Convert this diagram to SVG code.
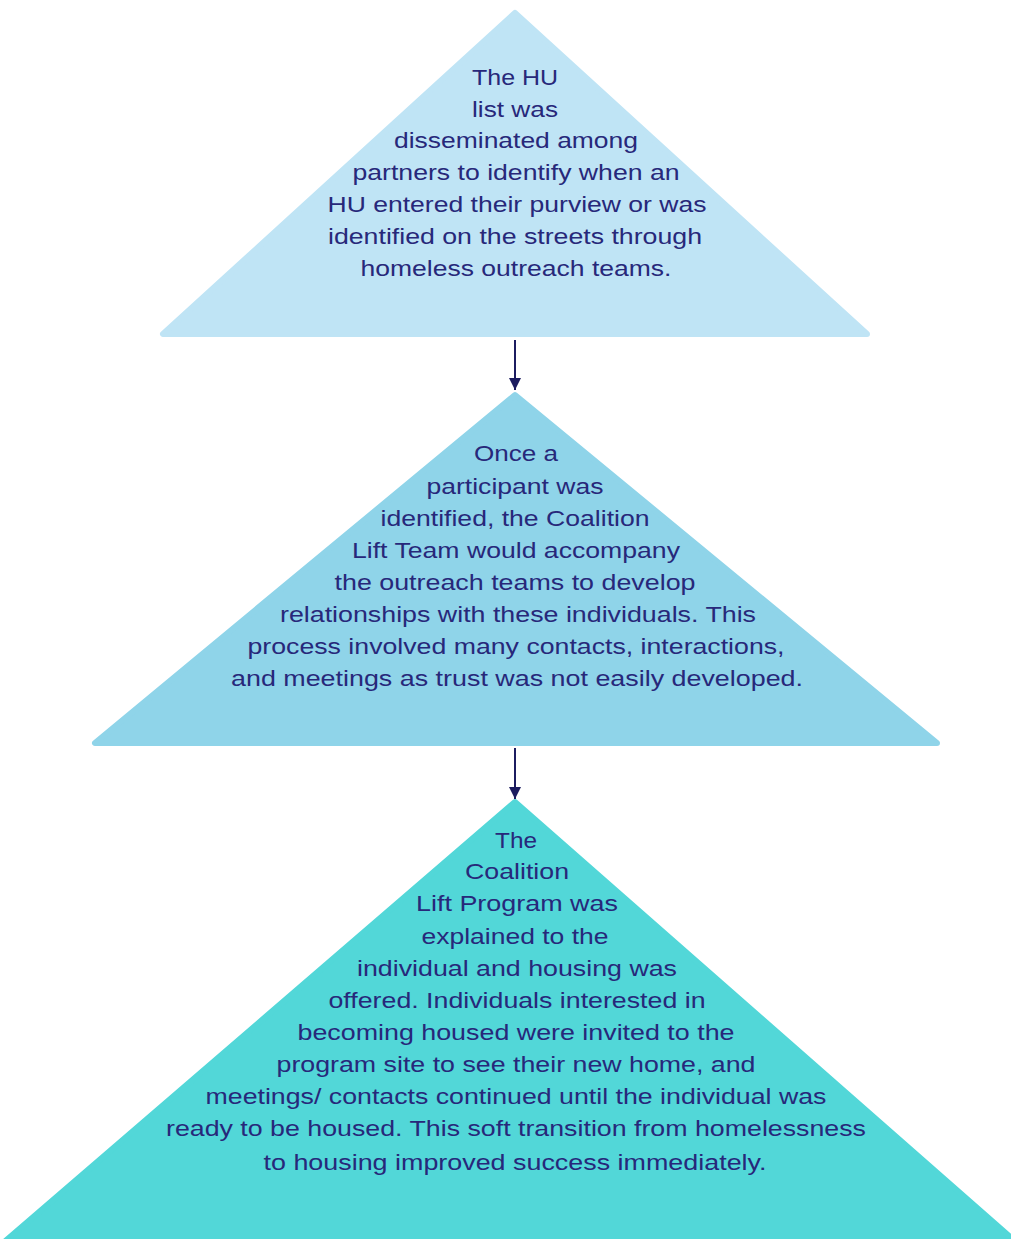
<svg xmlns="http://www.w3.org/2000/svg" width="1011" height="1239" viewBox="0 0 1011 1239">
<style>
.t{font-family:"Liberation Sans",Arial,sans-serif;font-size:22px;fill:#27287a;text-anchor:middle}
.c{stroke:#1c1c60;stroke-width:2;fill:none}
</style>
<defs>
<marker id="ah" viewBox="0 0 10 10" refX="10" refY="5" markerWidth="12" markerHeight="12" markerUnits="userSpaceOnUse" orient="auto">
<path d="M0,0 L10,5 L0,10 z" fill="#1c1c60"/>
</marker>
</defs>
<rect width="1011" height="1239" fill="#ffffff"/>
<g id="connectors">
<line class="c" x1="515" y1="340" x2="515" y2="390" marker-end="url(#ah)"/>
<line class="c" x1="515" y1="748" x2="515" y2="799" marker-end="url(#ah)"/>
</g>
<g id="node1">
<polygon points="515,13 163,334 867,334" fill="#bfe4f5" stroke="#bfe4f5" stroke-width="6" stroke-linejoin="round"/>
<text class="t" x="515" y="85" textLength="86" lengthAdjust="spacingAndGlyphs">The HU</text>
<text class="t" x="515" y="117" textLength="86" lengthAdjust="spacingAndGlyphs">list was</text>
<text class="t" x="516" y="148" textLength="244" lengthAdjust="spacingAndGlyphs">disseminated among</text>
<text class="t" x="516" y="180" textLength="327" lengthAdjust="spacingAndGlyphs">partners to identify when an</text>
<text class="t" x="517" y="212" textLength="379" lengthAdjust="spacingAndGlyphs">HU entered their purview or was</text>
<text class="t" x="515" y="244" textLength="374" lengthAdjust="spacingAndGlyphs">identified on the streets through</text>
<text class="t" x="516" y="276" textLength="311" lengthAdjust="spacingAndGlyphs">homeless outreach teams.</text>
</g>
<g id="node2">
<polygon points="515,395 95,743 937,743" fill="#8fd4e9" stroke="#8fd4e9" stroke-width="6" stroke-linejoin="round"/>
<text class="t" x="516" y="461" textLength="84" lengthAdjust="spacingAndGlyphs">Once a</text>
<text class="t" x="515" y="494" textLength="177" lengthAdjust="spacingAndGlyphs">participant was</text>
<text class="t" x="515" y="526" textLength="269" lengthAdjust="spacingAndGlyphs">identified, the Coalition</text>
<text class="t" x="516" y="558" textLength="328" lengthAdjust="spacingAndGlyphs">Lift Team would accompany</text>
<text class="t" x="515" y="590" textLength="361" lengthAdjust="spacingAndGlyphs">the outreach teams to develop</text>
<text class="t" x="518" y="622" textLength="476" lengthAdjust="spacingAndGlyphs">relationships with these individuals. This</text>
<text class="t" x="516" y="654" textLength="537" lengthAdjust="spacingAndGlyphs">process involved many contacts, interactions,</text>
<text class="t" x="517" y="686" textLength="572" lengthAdjust="spacingAndGlyphs">and meetings as trust was not easily developed.</text>
</g>
<g id="node3">
<polygon points="515,802 -5,1250 1025,1250" fill="#52d7d8" stroke="#52d7d8" stroke-width="6" stroke-linejoin="round"/>
<text class="t" x="516" y="848" textLength="42" lengthAdjust="spacingAndGlyphs">The</text>
<text class="t" x="517" y="879" textLength="104" lengthAdjust="spacingAndGlyphs">Coalition</text>
<text class="t" x="517" y="911" textLength="202" lengthAdjust="spacingAndGlyphs">Lift Program was</text>
<text class="t" x="515" y="944" textLength="187" lengthAdjust="spacingAndGlyphs">explained to the</text>
<text class="t" x="517" y="976" textLength="320" lengthAdjust="spacingAndGlyphs">individual and housing was</text>
<text class="t" x="517" y="1008" textLength="377" lengthAdjust="spacingAndGlyphs">offered. Individuals interested in</text>
<text class="t" x="516" y="1040" textLength="437" lengthAdjust="spacingAndGlyphs">becoming housed were invited to the</text>
<text class="t" x="516" y="1072" textLength="479" lengthAdjust="spacingAndGlyphs">program site to see their new home, and</text>
<text class="t" x="516" y="1104" textLength="621" lengthAdjust="spacingAndGlyphs">meetings/ contacts continued until the individual was</text>
<text class="t" x="516" y="1136" textLength="700" lengthAdjust="spacingAndGlyphs">ready to be housed. This soft transition from homelessness</text>
<text class="t" x="515" y="1170" textLength="503" lengthAdjust="spacingAndGlyphs">to housing improved success immediately.</text>
</g>
</svg>
